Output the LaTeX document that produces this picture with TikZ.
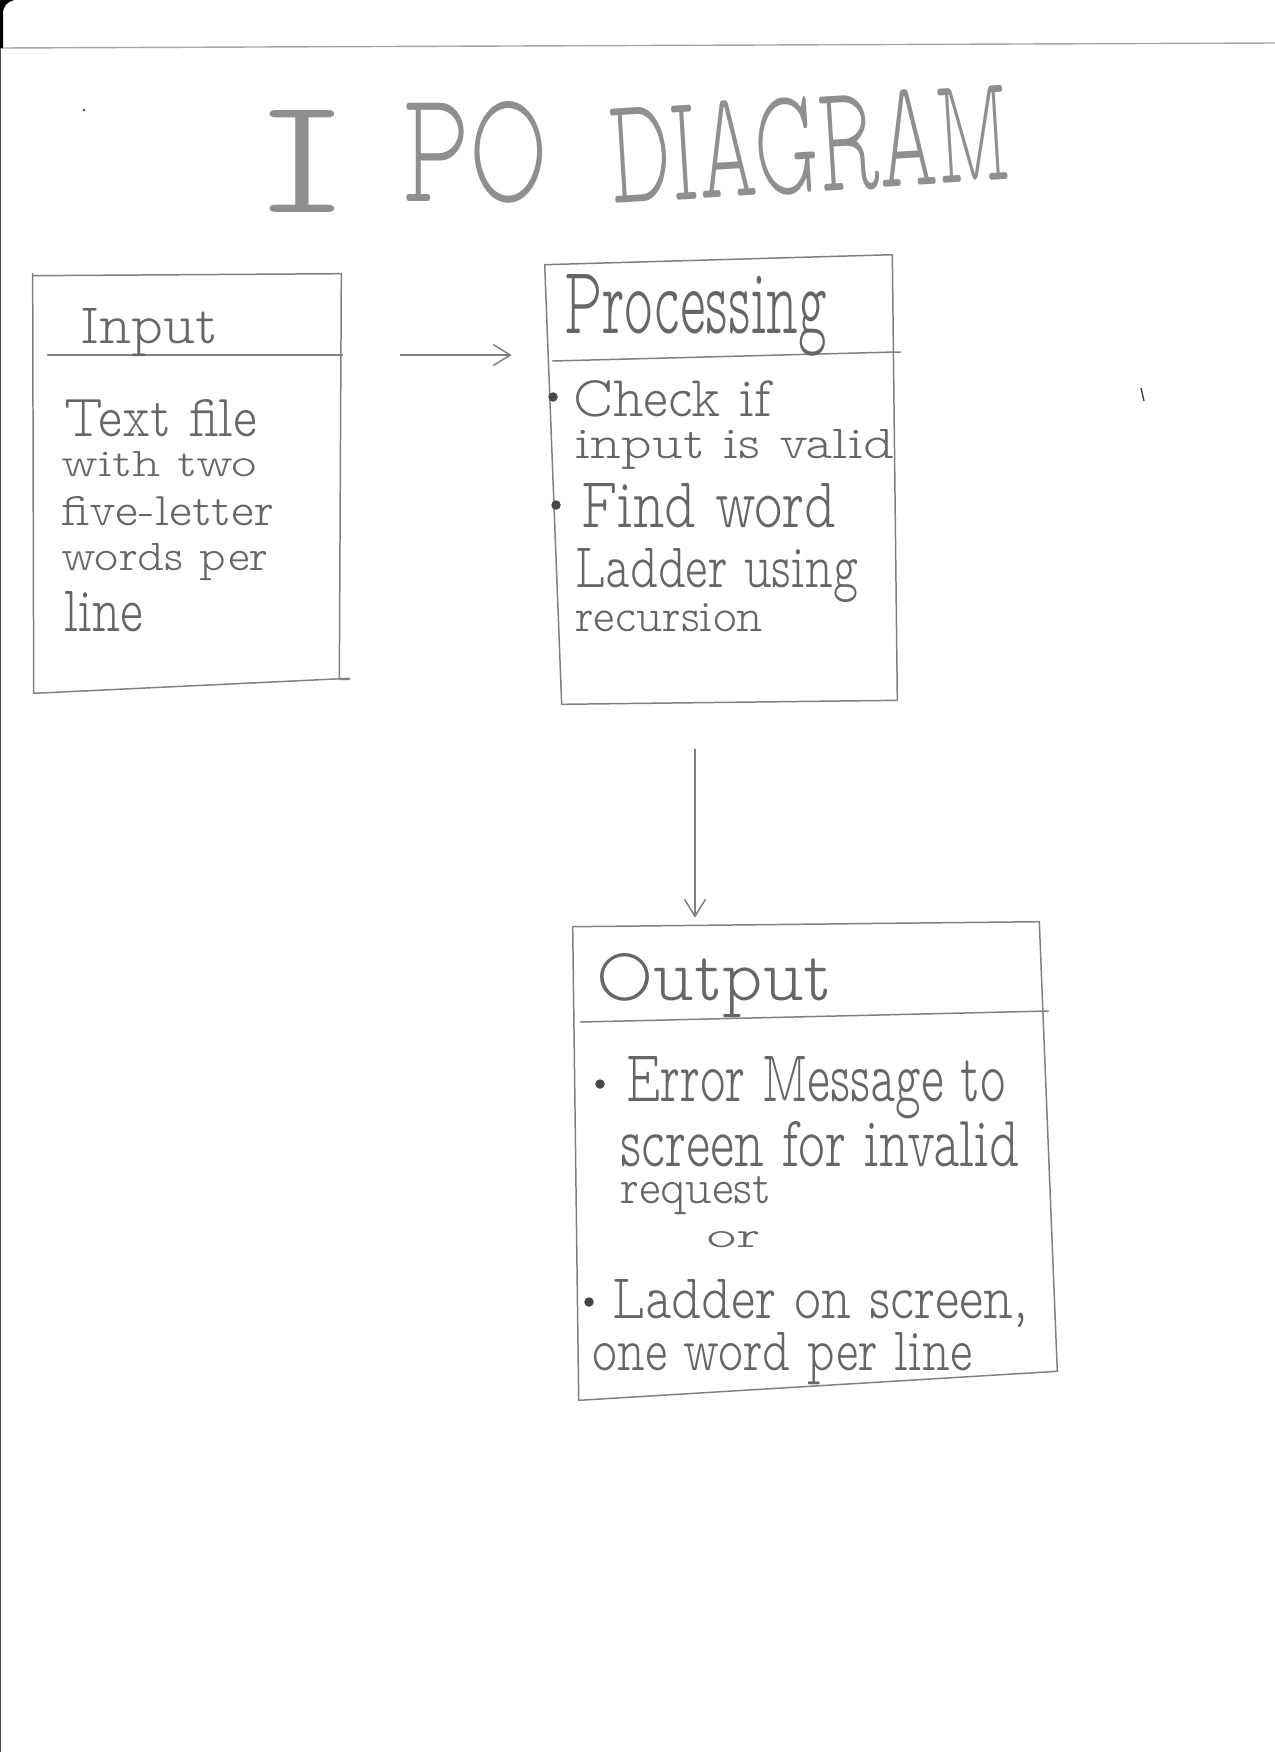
\documentclass[tikz,border=0pt]{standalone}
\usepackage{fontspec}
\usetikzlibrary{arrows.meta}

% one unit of the picture grid
\newlength\pxu
\setlength\pxu{0.02cm}
% a line of hand lettering squeezed into a given width and height
\newcommand\hw[3]{\resizebox{#1\pxu}{#2\pxu}{#3}}
\newcommand\pencilfont{\fontfamily{lmvtt}\fontseries{l}\selectfont\fontsize{30}{36}\selectfont}

\definecolor{lineg}{gray}{0.50}
\definecolor{textg}{gray}{0.40}
\definecolor{titleg}{gray}{0.56}

\tikzset{
  pencil/.style={draw=lineg, line width=0.85pt, line cap=round, line join=round},
  box/.style={rectangle, inner sep=0pt},
  txt/.style={anchor=base west, inner sep=0pt, text=textg, font=\pencilfont},
  headtxt/.style={txt, text=titleg},
  bulletdot/.style={circle, fill=gray!55!black, inner sep=0pt, minimum size=0.19cm},
  flow/.style={pencil, -{Straight Barb[length=0.34cm, width=0.42cm]}},
}

\begin{document}
\begin{tikzpicture}[x=0.02cm, y=-0.02cm]
\fill[white] (0,0) rectangle (1275,1752);
\useasboundingbox (0,0) rectangle (1275,1752);

% sheet edges
\draw[gray!70, line width=0.8pt] (0,48) -- (1275,43);
\fill[black] (0,0) -- (0,48) -- (3,48) -- (3,14) .. controls (3,6) and (7,2) .. (14,0) -- cycle;
\draw[gray!60!black, line width=0.7pt] (0.5,48) -- (0.5,1752);

% stray pencil marks
\fill[gray!60!black] (84,110) circle (1.3);
\draw[gray!50!black, line width=0.8pt] (1141,388) -- (1144,401);

% title
\node[headtxt] (tI)   at (258,212) {\hw{88}{102}{I}};
\node[headtxt] (tPO)  at (402,201) {\hw{146}{100}{PO}};
\node[headtxt, rotate=3.5] (tDia) at (612,204) {\hw{400}{96}{DIAGRAM}};

% the three boxes (named frames, outlined by hand below)
\node[box, minimum width=6.16cm, minimum height=8.24cm] (input) at (188,480) {};
\node[box, minimum width=6.84cm, minimum height=8.88cm] (proc)  at (724,482) {};
\node[box, minimum width=9.44cm, minimum height=9.24cm] (out)   at (812,1155) {};

\draw[pencil] ([shift={(0,2)}]input.north west) -- ([shift={(-1,0)}]input.north east)
  -- ([shift={(-3,-7)}]input.south east) -- ++(10,0);
\draw[pencil] ([shift={(-1,0)}]input.north west) -- ([shift={(0,7)}]input.south west)
  -- ([shift={(7,-8)}]input.south east);

\draw[pencil] ([shift={(-8,5)}]proc.north west) -- ([shift={(-3,-5)}]proc.north east)
  -- ([shift={(2,-4)}]proc.south east) -- ([shift={(9,0)}]proc.south west) -- cycle;

\draw[pencil] ([shift={(-3,3)}]out.north west) -- ([shift={(-9,-2)}]out.north east)
  -- ([shift={(9,-15)}]out.south east) -- ([shift={(3,14)}]out.south west) -- cycle;

% header rules
\draw[pencil] (input.west |- 0,355) ++(14,0) -- (input.east |- 0,355);
\draw[pencil] (proc.west |- 0,361) -- (proc.east |- 0,352) -- ++(5,0);
\draw[pencil] (out.west |- 0,1022) ++(5,0) -- (out.east |- 0,1011) ++(-11,0);

% Input
\node[txt] (inH) at (80,343)  {\hw{138}{35}{Input}};
\node[txt] (in1) at (64,436)  {\hw{193}{37}{Text file}};
\node[txt] (in2) at (61,476)  {\hw{196}{25}{with two}};
\node[txt] (in3) at (61,525)  {\hw{213}{29}{five-letter}};
\node[txt] (in4) at (61,570)  {\hw{207}{27}{words per}};
\node[txt] (in5) at (64,631)  {\hw{79}{40}{line}};

% Processing
\node[txt] (prH) at (564,333) {\hw{263}{59}{Processing}};
\node[bulletdot] (pb1) at (553,397) {};
\node[txt] (pr1) at (573,416) {\hw{198}{36}{Check if}};
\node[txt] (pr2) at (575,458) {\hw{319}{29}{input is valid}};
\node[bulletdot] (pb2) at (556,505) {};
\node[txt] (pr3) at (581,527) {\hw{255}{44}{Find word}};
\node[txt] (pr4) at (575,587) {\hw{283}{39}{Ladder using}};
\node[txt] (pr5) at (575,631) {\hw{188}{28}{recursion}};

% Output
\node[txt] (ouH) at (596,1000) {\hw{236}{47}{Output}};
\node[bulletdot] (ob1) at (600,1084) {};
\node[txt] (ou1) at (626,1101) {\hw{380}{45}{Error Message to}};
\node[txt] (ou2) at (620,1166) {\hw{399}{45}{screen for invalid}};
\node[txt] (ou3) at (620,1203) {\hw{151}{27}{request}};
\node[txt] (ou4) at (706,1247) {\hw{54}{16}{or}};
\node[bulletdot] (ob2) at (589,1302) {};
\node[txt] (ou5) at (612,1318) {\hw{416}{39}{Ladder on screen,}};
\node[txt] (ou6) at (592,1370) {\hw{380}{38}{one word per line}};

% flow between the boxes
\draw[flow, shorten <=1.16cm, shorten >=0.82cm] (input.east |- 0,355) -- (proc.west |- 0,355);
\draw[flow, shorten <=0.9cm, shorten >=0.12cm] (proc.south -| 695,0) -- (out.north -| 695,0);
\end{tikzpicture}
\end{document}
